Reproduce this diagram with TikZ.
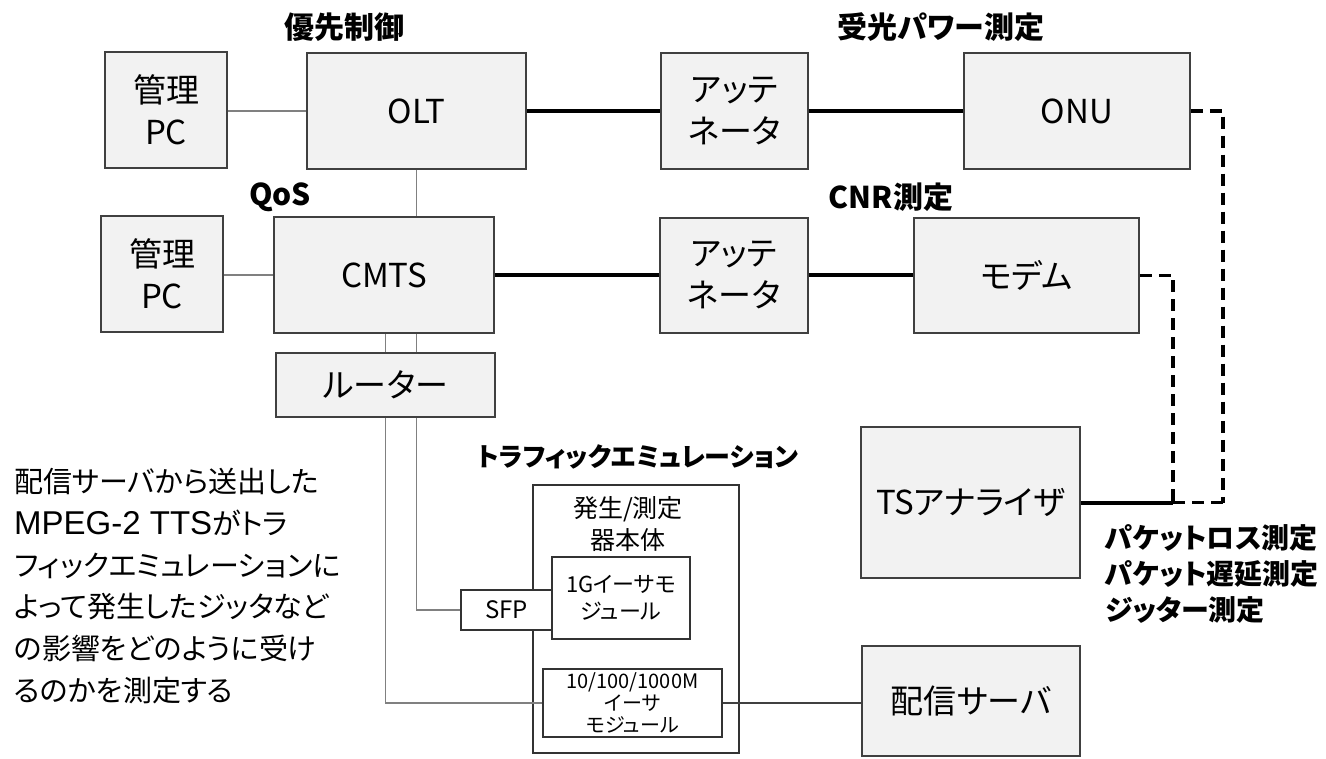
\documentclass[tikz,border=0pt]{standalone}
\usepackage{fontspec}
\setmainfont{Noto Sans CJK JP}[RawFeature=+palt]
\newfontfamily\arialf{Liberation Sans}
\begin{document}
\begin{tikzpicture}[x=1pt,y=-1pt,
  box/.style={draw=black!75, fill=black!5, line width=1.5pt, inner sep=0pt, align=center, font=\fontsize{33}{42}\selectfont},
  wbox/.style={draw=black!80, fill=white, line width=1.8pt, inner sep=0pt, align=center},
  thinln/.style={draw=black!50, line width=1.5pt},
  darkln/.style={draw=black!75, line width=1.5pt},
  thk/.style={draw=black, line width=4pt},
  dsh/.style={draw=black, line width=3.5pt, dash pattern=on 12pt off 7pt},
  lbl/.style={font=\fontsize{30}{36}\selectfont\bfseries, inner sep=0pt, align=left}]
\useasboundingbox (0,0) rectangle (1326,759);

% main boxes
\node[box, minimum width=122pt, minimum height=116pt] (pc1) at (166,110) {管理\\PC};
\node[box, minimum width=219pt, minimum height=116pt] (olt) at (416.5,111) {OLT};
\node[box, minimum width=147pt, minimum height=116pt] (att1) at (734.5,111) {アッテ\\ネータ};
\node[box, minimum width=226pt, minimum height=116pt] (onu) at (1077,111) {ONU};
\node[box, minimum width=122pt, minimum height=116pt] (pc2) at (162,274) {管理\\PC};
\node[box, minimum width=220pt, minimum height=116pt] (cmts) at (384,275) {CMTS};
\node[box, minimum width=148pt, minimum height=115pt] (att2) at (734,275.5) {アッテ\\ネータ};
\node[box, minimum width=225pt, minimum height=115pt] (modem) at (1026.5,275.5) {モデム};
\node[box, minimum width=219pt, minimum height=64pt] (router) at (385.5,385) {ルーター};
\node[box, minimum width=219pt, minimum height=151pt] (ts) at (970.5,502.5) {TSアナライザ};
\node[box, minimum width=218pt, minimum height=110pt] (server) at (971,701) {配信サーバ};

% emulator
\node[wbox, minimum width=206pt, minimum height=268pt] (emu) at (636,619) {};
\node[inner sep=0pt, align=center, font=\fontsize{25}{32}\selectfont] (emutxt) at (628,524) {発生/測定\\器本体};
\node[wbox, minimum width=91pt, minimum height=40pt, font=\fontsize{24}{28}\selectfont] (sfp) at (506.5,610) {SFP};
\node[wbox, minimum width=138pt, minimum height=82pt, font=\fontsize{22}{27}\selectfont] (g1) at (621,598) {1Gイーサモ\\ジュール};
\node[wbox, minimum width=179pt, minimum height=68pt, font=\fontsize{20}{22}\selectfont] (eth) at (632.5,703) {10/100/1000M\\イーサ\\モジュール};

% labels
\node[lbl] (l1) at (344,27) {優先制御};
\node[lbl] (l2) at (941,27) {受光パワー測定};
\node[lbl] (l3) at (280,197) {QoS};
\node[lbl] (l4) at (891,197) {CNR測定};
\node[lbl, anchor=west, font=\fontsize{26}{30}\selectfont\bfseries] (l5) at (477,457) {トラフィックエミュレーション};
\node[lbl, anchor=north west, font=\fontsize{28}{36}\selectfont\bfseries] (l6) at (1105,524) {パケットロス測定\\パケット遅延測定\\ジッター測定};
\node[anchor=north west, inner sep=0pt, align=left, font=\fontsize{29}{41.8}\selectfont] (note) at (14,468)
  {配信サーバから送出した\\{\arialf\fontsize{33}{41.8}\selectfont MPEG-2 TTS}がトラ\\フィックエミュレーションに\\よって発生したジッタなど\\の影響をどのように受け\\るのかを測定する};

% junctions
\coordinate (j1) at (1173,502.5);
\coordinate (j2) at (1223,502.5);

% connectors
\draw[thinln] (pc1.east |- olt.west) -- (olt.west);
\draw[thinln] (pc2.east |- cmts.west) -- (cmts.west);
\draw[thinln] (olt.south) -- (olt.south |- cmts.north);
\draw[thinln] (router.north) -- (router.north |- cmts.south);
\draw[thinln] (router.north -| olt.south) -- (cmts.south -| olt.south);
\draw[thinln] (router.south) |- (eth.west);
\draw[thinln] (router.south -| olt.south) |- (sfp.west);
\draw[darkln] (eth.east) -- (eth.east -| server.west);
\draw[thk] (olt.east) -- (att1.west);
\draw[thk] (att1.east) -- (onu.west);
\draw[thk] (cmts.east) -- (cmts.east -| att2.west);
\draw[thk] (att2.east) -- (modem.west);
\draw[thk] (ts.east) -- (j1);
\draw[dsh] (j1) -- (j2);
\draw[dsh] (onu.east) -| (j2);
\draw[dsh] (modem.east) -| (j1);
\end{tikzpicture}
\end{document}
